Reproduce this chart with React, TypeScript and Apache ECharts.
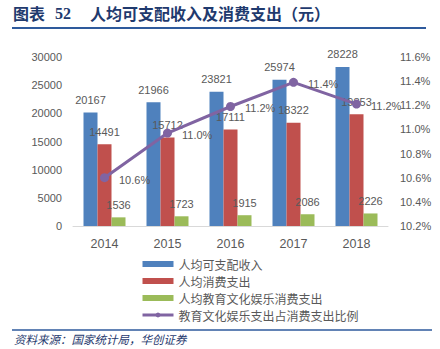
import React, { useEffect, useRef } from "react";
import * as echarts from "echarts";

const categories = ["2014", "2015", "2016", "2017", "2018"];
const income = [20167, 21966, 23821, 25974, 28228];
const consumption = [14491, 15712, 17111, 18322, 19853];
const eduSpend = [1536, 1723, 1915, 2086, 2226];
const eduRatio = [10.6, 10.97, 11.19, 11.39, 11.21];

const seriesNames = [
  "人均可支配收入",
  "人均消费支出",
  "人均教育文化娱乐消费支出",
  "教育文化娱乐支出占消费支出比例",
];

const titlePrefix = "图表";
const titleNumber = "52";
const titleText = "人均可支配收入及消费支出（元）";
const sourceText = "资料来源：国家统计局，华创证券";

const numFont = "'Liberation Sans', Arial, sans-serif";
const cjkFont = "'Noto Sans CJK SC', sans-serif";
const gray = "#595959";
const titleColor = "#1F3A6E";

export default function App() {
  const ref = useRef<HTMLDivElement>(null);
  useEffect(() => {
    if (!ref.current) return;
    const chart = echarts.init(ref.current, null, { renderer: "svg" });
    const barLabel = {
      show: true,
      position: "top" as const,
      distance: 7,
      color: gray,
      fontSize: 11,
      fontFamily: numFont,
    };
    chart.setOption({
      animation: false,
      backgroundColor: "#fff",
      grid: { left: 73, right: 52, top: 57, bottom: 123 },
      legend: {
        orient: "vertical",
        left: 136,
        top: 253,
        itemWidth: 31,
        itemHeight: 6,
        itemGap: 5,
        textStyle: { color: gray, fontSize: 12, fontFamily: cjkFont },
        data: [
          { name: seriesNames[0], icon: "rect" },
          { name: seriesNames[1], icon: "rect" },
          { name: seriesNames[2], icon: "rect" },
          { name: seriesNames[3], lineStyle: { width: 3 } },
        ],
      },
      xAxis: {
        type: "category",
        data: categories,
        axisLine: { lineStyle: { color: "#D9D9D9", width: 1 } },
        axisTick: { show: false },
        axisLabel: { color: gray, fontSize: 12.5, fontFamily: numFont, margin: 11 },
      },
      yAxis: [
        {
          type: "value",
          min: 0,
          max: 30000,
          interval: 5000,
          axisLine: { show: false },
          axisTick: { show: false },
          splitLine: { show: false },
          axisLabel: {
            color: gray,
            fontSize: 11,
            fontFamily: numFont,
            margin: 11,
            formatter: (v: number) => String(v),
          },
        },
        {
          type: "value",
          min: 10.2,
          max: 11.6,
          interval: 0.2,
          axisLine: { show: false },
          axisTick: { show: false },
          splitLine: { show: false },
          axisLabel: {
            color: gray,
            fontSize: 11,
            fontFamily: numFont,
            margin: 12,
            formatter: (v: number) => v.toFixed(1) + "%",
          },
        },
      ],
      series: [
        {
          name: seriesNames[0],
          type: "bar",
          data: income,
          barWidth: 14,
          barGap: "0%",
          itemStyle: { color: "#4F81BD" },
          label: barLabel,
        },
        {
          name: seriesNames[1],
          type: "bar",
          data: consumption,
          barWidth: 14,
          barGap: "0%",
          itemStyle: { color: "#C0504D" },
          label: barLabel,
        },
        {
          name: seriesNames[2],
          type: "bar",
          data: eduSpend,
          barWidth: 14,
          barGap: "0%",
          itemStyle: { color: "#9BBB59" },
          label: barLabel,
        },
        {
          name: seriesNames[3],
          type: "line",
          yAxisIndex: 1,
          data: eduRatio,
          z: 5,
          symbol: "circle",
          symbolSize: 9,
          lineStyle: { color: "#8064A2", width: 3 },
          itemStyle: { color: "#8064A2" },
          label: {
            show: true,
            position: "right",
            distance: 10,
            offset: [0, 2],
            color: gray,
            fontSize: 11,
            fontFamily: numFont,
            formatter: (p: any) => Number(p.value).toFixed(1) + "%",
          },
        },
      ],
      graphic: [
        {
          type: "text",
          left: 13,
          top: 5,
          style: { text: titlePrefix, fill: titleColor, font: `bold 16px ${cjkFont}` },
        },
        {
          type: "text",
          left: 55,
          top: 5,
          style: { text: titleNumber, fill: titleColor, font: `bold 16px 'Liberation Serif', serif` },
        },
        {
          type: "text",
          left: 90,
          top: 5,
          style: { text: titleText, fill: titleColor, font: `bold 16px ${cjkFont}` },
        },
        {
          type: "line",
          shape: { x1: 12, y1: 28, x2: 426, y2: 28 },
          style: { stroke: "#2E5A9C", lineWidth: 2 },
        },
        {
          type: "line",
          shape: { x1: 12, y1: 330, x2: 432, y2: 330 },
          style: { stroke: "#2E5A9C", lineWidth: 1.5 },
        },
        {
          type: "text",
          left: 14,
          top: 333,
          style: {
            text: sourceText,
            fill: titleColor,
            font: `italic 11.5px ${cjkFont}`,
          },
        },
      ],
    });
    return () => chart.dispose();
  }, []);
  return (
    <div
      ref={ref}
      style={{ position: "absolute", left: 0, top: 0, width: 440, height: 349 }}
    />
  );
}
